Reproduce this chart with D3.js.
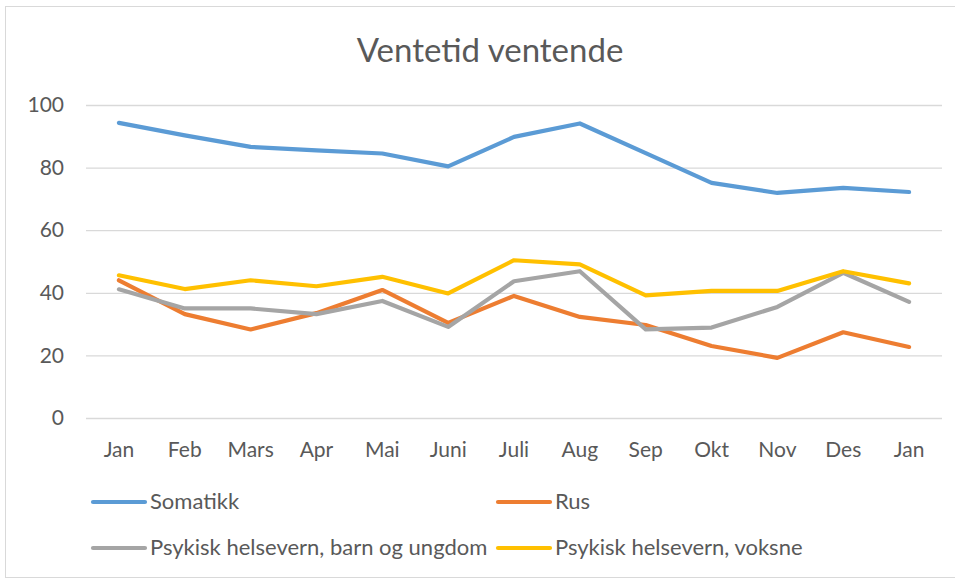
<!DOCTYPE html>
<html>
<head>
<meta charset="utf-8">
<script src="https://cdn.jsdelivr.net/npm/d3@7"></script>
<style>
  body { margin: 0; background: #fff; }
  svg text { font-family: Lato, "Open Sans", sans-serif; fill: #595959; }
</style>
</head>
<body>
<div id="chart"></div>
<script>
// data
var months = ["Jan", "Feb", "Mars", "Apr", "Mai", "Juni", "Juli", "Aug", "Sep", "Okt", "Nov", "Des", "Jan"];
var somatikk = [94.3, 90.3, 86.6, 85.5, 84.5, 80.4, 89.8, 94.1, 84.6, 75.1, 71.9, 73.5, 72.2];
var rus = [44.0, 33.2, 28.3, 33.5, 40.9, 30.4, 39.0, 32.3, 29.7, 23.0, 19.2, 27.4, 22.7];
var barnUngdom = [41.1, 35.0, 35.0, 33.2, 37.4, 29.1, 43.7, 46.9, 28.3, 28.9, 35.5, 46.4, 37.1];
var voksne = [45.6, 41.2, 44.0, 42.1, 45.1, 39.8, 50.4, 49.1, 39.2, 40.6, 40.6, 46.9, 43.0];
var yTicks = [0, 20, 40, 60, 80, 100];

var series = [
    { name: "Somatikk", values: somatikk, color: "#5B9BD5" },
    { name: "Rus", values: rus, color: "#ED7D31" },
    { name: "Psykisk helsevern, barn og ungdom", values: barnUngdom, color: "#A5A5A5" },
    { name: "Psykisk helsevern, voksne", values: voksne, color: "#FFC000" }
];

var width = 955, height = 580;
var plotLeft = 86, plotRight = 942, plotTop = 105, plotBottom = 418;

var svg = d3.select('#chart').append('svg')
    .attr('width', width)
    .attr('height', height);

// chart border
svg.append('rect')
    .attr('x', 5.5).attr('y', 6.5)
    .attr('width', 960).attr('height', 571)
    .attr('fill', '#fff')
    .attr('stroke', '#d9d9d9');

svg.append('text')
    .attr('x', 490).attr('y', 62)
    .attr('text-anchor', 'middle')
    .style('font-size', '33px')
    .text('Ventetid ventende');

var x = d3.scaleBand()
    .domain(d3.range(months.length))
    .range([plotLeft, plotRight]);
var y = d3.scaleLinear()
    .domain([0, 100])
    .range([plotBottom, plotTop]);

// gridlines
var yAxis = svg.append('g')
    .attr('transform', 'translate(' + plotLeft + ',0)')
    .call(d3.axisLeft(y).tickValues(yTicks).tickSize(-(plotRight - plotLeft)).tickPadding(22));
yAxis.select('.domain').remove();
yAxis.selectAll('.tick line').attr('stroke', '#d9d9d9').attr('stroke-width', 1.3);
yAxis.selectAll('.tick text').style('font-size', '21px').attr('fill', '#595959');

var xAxis = svg.append('g')
    .attr('transform', 'translate(0,' + plotBottom + ')')
    .call(d3.axisBottom(x).tickFormat(function (i) { return months[i]; }).tickSize(0).tickPadding(24));
xAxis.select('.domain').remove();
xAxis.selectAll('.tick text').style('font-size', '21px').attr('fill', '#595959');

var line = d3.line()
    .x(function (d, i) { return x(i) + x.bandwidth() / 2; })
    .y(function (d) { return y(d); });

svg.selectAll('path.series')
    .data(series)
    .enter()
    .append('path')
    .attr('class', 'series')
    .attr('d', function (s) { return line(s.values); })
    .attr('fill', 'none')
    .attr('stroke', function (s) { return s.color; })
    .attr('stroke-width', 4.2)
    .attr('stroke-linejoin', 'round')
    .attr('stroke-linecap', 'round');

// legend, two columns
var legendPos = [[93, 502], [498, 502], [93, 548], [498, 548]];
var leg = svg.selectAll('g.legend')
    .data(series)
    .enter()
    .append('g')
    .attr('class', 'legend')
    .attr('transform', function (d, i) { return 'translate(' + legendPos[i][0] + ',' + legendPos[i][1] + ')'; });
leg.append('line')
    .attr('x1', 0).attr('x2', 52)
    .attr('stroke', function (d) { return d.color; })
    .attr('stroke-width', 4.2)
    .attr('stroke-linecap', 'round');
leg.append('text')
    .attr('x', 57).attr('y', 7)
    .style('font-size', '22px')
    .text(function (d) { return d.name; });
</script>
</body>
</html>
